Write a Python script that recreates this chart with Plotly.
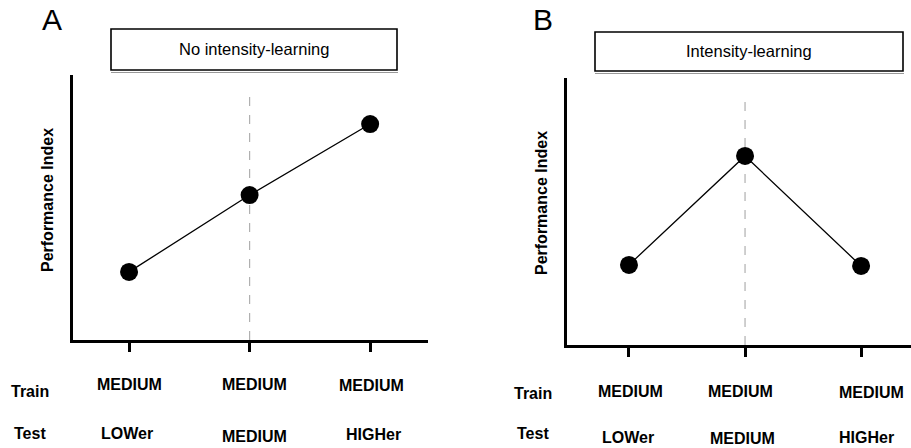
import plotly.graph_objects as go

# ---- data ----
positions = [1, 2, 3]
train_labels = ["MEDIUM", "MEDIUM", "MEDIUM"]
test_labels = ["LOWer", "MEDIUM", "HIGHer"]
perf_no_learning = [2.57, 5.47, 8.15]
perf_learning = [3.0, 7.08, 2.96]
panel_titles = ["No intensity-learning", "Intensity-learning"]
panel_letters = ["A", "B"]
y_title = "Performance Index"

W, H = 911, 448
FONT = "Liberation Sans, Arial, sans-serif"

def px(x):
    return x / W

def py(y):
    return 1 - y / H

fig = go.Figure()

fig.add_trace(go.Scatter(x=positions, y=perf_no_learning, mode="lines+markers",
                         line=dict(color="black", width=1.3),
                         marker=dict(size=18, color="black"),
                         xaxis="x", yaxis="y", showlegend=False, hoverinfo="skip"))
fig.add_trace(go.Scatter(x=positions, y=perf_learning, mode="lines+markers",
                         line=dict(color="black", width=1.3),
                         marker=dict(size=18, color="black"),
                         xaxis="x2", yaxis="y2", showlegend=False, hoverinfo="skip"))

axis_common = dict(showgrid=False, zeroline=False, showline=True, linecolor="black",
                   linewidth=2.5, mirror=False)

fig.update_layout(
    width=W, height=H,
    margin=dict(l=0, r=0, t=0, b=0),
    paper_bgcolor="white", plot_bgcolor="white",
    font=dict(family=FONT, color="black"),
    xaxis=dict(domain=[px(73), px(428)], range=[0.535, 3.48], anchor="y",
               tickvals=positions, ticktext=["", "", ""], ticks="outside",
               ticklen=9, tickwidth=2.5, tickcolor="black", **axis_common),
    yaxis=dict(domain=[py(340), py(75)], range=[0, 10], anchor="x",
               showticklabels=False, ticks="", **axis_common),
    xaxis2=dict(domain=[px(567), 1.0], range=[0.466, 3.43], anchor="y2",
                tickvals=positions, ticktext=["", "", ""], ticks="outside",
                ticklen=9, tickwidth=2.5, tickcolor="black", **axis_common),
    yaxis2=dict(domain=[py(345), py(78)], range=[0, 10], anchor="x2",
                showticklabels=False, ticks="", **axis_common),
)

# dashed reference lines at the medium category
DASH_TOP = 9.3
for xr, yr in [("x", "y"), ("x2", "y2")]:
    fig.add_shape(type="line", xref=xr, yref=yr, x0=positions[1], x1=positions[1],
                  y0=0, y1=DASH_TOP, line=dict(color="#b0b0b0", width=1.2, dash="dash"),
                  layer="below")

# title boxes
boxes = [(111, 397, 29, 70), (595, 903, 32, 71)]
for (x0, x1, y0, y1), title in zip(boxes, panel_titles):
    fig.add_shape(type="rect", xref="paper", yref="paper",
                  x0=px(x0), x1=px(x1), y0=py(y1), y1=py(y0),
                  line=dict(color="black", width=1.6), fillcolor="white")
    fig.add_shape(type="line", xref="paper", yref="paper",
                  x0=px(x0), x1=px(x1 + 1), y0=py(y1 + 2.5), y1=py(y1 + 2.5),
                  line=dict(color="#999999", width=1.2))
    fig.add_annotation(xref="paper", yref="paper", x=px((x0 + x1) / 2), y=py((y0 + y1) / 2),
                       text=title, showarrow=False, font=dict(size=16.5, family=FONT),
                       xanchor="center", yanchor="middle")

# panel letters
for (lx, ly), letter in zip([(52, 20), (543, 20)], panel_letters):
    fig.add_annotation(xref="paper", yref="paper", x=px(lx), y=py(ly), text=letter,
                       showarrow=False, font=dict(size=30, family=FONT),
                       xanchor="center", yanchor="middle")

# y-axis titles
for lx, ly in [(47, 200), (541, 203)]:
    fig.add_annotation(xref="paper", yref="paper", x=px(lx), y=py(ly), text=f"<b>{y_title}</b>",
                       textangle=-90, showarrow=False, font=dict(size=16, family=FONT),
                       xanchor="center", yanchor="middle")

# Train / Test row labels and category labels
panels = [
    dict(xr="x", row_x=30, train_y=[384, 384, 385], test_y=[433, 436, 434],
         train_shift=[0, 5, 1], test_shift=[-2, 5, 3], rowlab_y=(391, 433)),
    dict(xr="x2", row_x=533, train_y=[391, 391, 392], test_y=[437, 438, 437],
         train_shift=[2, -5, 10], test_shift=[-1, -3, 5], rowlab_y=(393, 433)),
]
for p in panels:
    for lab, ry in zip(["Train", "Test"], p["rowlab_y"]):
        fig.add_annotation(xref="paper", yref="paper", x=px(p["row_x"]), y=py(ry),
                           text=f"<b>{lab}</b>", showarrow=False,
                           font=dict(size=16, family=FONT), xanchor="center", yanchor="middle")
    for i, pos in enumerate(positions):
        fig.add_annotation(xref=p["xr"], yref="paper", x=pos, y=py(p["train_y"][i]),
                           xshift=p["train_shift"][i], text=f"<b>{train_labels[i]}</b>",
                           showarrow=False, font=dict(size=16, family=FONT),
                           xanchor="center", yanchor="middle")
        fig.add_annotation(xref=p["xr"], yref="paper", x=pos, y=py(p["test_y"][i]),
                           xshift=p["test_shift"][i], text=f"<b>{test_labels[i]}</b>",
                           showarrow=False, font=dict(size=16, family=FONT),
                           xanchor="center", yanchor="middle")

fig.write_html("out.html", config={"displayModeBar": False},
               post_script="document.body.style.margin='0';document.body.style.overflow='hidden';")
